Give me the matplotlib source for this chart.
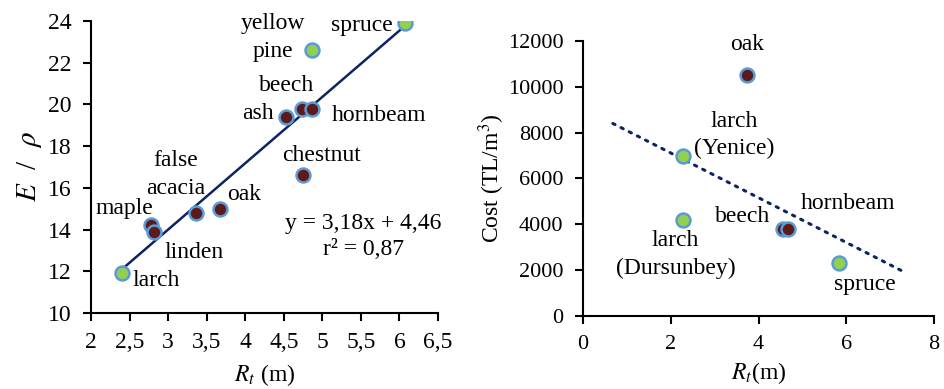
import numpy as np
import matplotlib as mpl
import matplotlib.pyplot as plt

mpl.rcParams['font.family'] = ['Liberation Serif', 'DejaVu Serif']
mpl.rcParams['mathtext.fontset'] = 'stix'

# left panel: E/rho vs R_t
species_l = ['larch', 'maple', 'linden', 'false acacia', 'oak', 'ash',
             'beech', 'hornbeam', 'chestnut', 'yellow pine', 'spruce']
rt_l = [2.40, 2.78, 2.82, 3.36, 3.67, 4.53, 4.73, 4.87, 4.75, 4.87, 6.07]
e_rho = [11.9, 14.2, 13.9, 14.8, 15.0, 19.4, 19.8, 19.8, 16.6, 22.6, 23.9]
softwood_l = [True, False, False, False, False, False, False, False, False, True, True]
slope_l, icpt_l = 3.18, 4.46

# right panel: cost vs R_t
species_r = ['oak', 'larch (Yenice)', 'larch (Dursunbey)', 'beech', 'hornbeam', 'spruce']
rt_r = [3.73, 2.28, 2.28, 4.55, 4.68, 5.83]
cost = [10500, 7000, 4200, 3800, 3800, 2300]
softwood_r = [False, True, True, False, False, True]

brown = '#5c1a1a'
green = '#92d050'
edge = '#5b9bd5'
navy = '#0d2463'
fs = 17

fig = plt.figure(figsize=(9.44, 3.89), dpi=100)

def style(ax, tsize):
    for s in ['top', 'right']:
        ax.spines[s].set_visible(False)
    for s in ['left', 'bottom']:
        ax.spines[s].set_linewidth(1.5)
    ax.tick_params(direction='out', width=1.5, length=6, pad=8, labelsize=tsize)

# ---- left
ax1 = fig.add_axes([0.0964, 0.1954, 0.3676, 0.7506])
style(ax1, 17)
xs = np.array([min(rt_l), max(rt_l)])
ax1.plot(xs, slope_l * xs + icpt_l, color=navy, lw=1.8, zorder=1)
for x, y, sw in zip(rt_l, e_rho, softwood_l):
    ax1.plot(x, y, 'o', ms=10, mfc=green if sw else brown, mec=edge, mew=1.8, zorder=2)
ax1.set_xlim(2, 6.5)
ax1.set_ylim(10, 24)
ax1.set_xticks(np.arange(2, 6.51, 0.5))
ax1.set_xticklabels([f'{v:g}'.replace('.', ',') for v in np.arange(2, 6.51, 0.5)])
ax1.set_yticks(range(10, 25, 2))
ax1.set_xlabel(r'$R_t$ (m)', fontsize=17, labelpad=6)
ax1.set_ylabel(r'$E$  /  $\rho$', fontsize=21, labelpad=3)

lab_l = {'larch': (2.84, 11.55), 'maple': (2.43, 15.02), 'linden': (3.33, 12.91),
         'false acacia': (3.10, 16.65), 'oak': (3.99, 15.66), 'ash': (4.16, 19.57),
         'beech': (4.53, 20.93), 'hornbeam': (5.73, 19.49), 'chestnut': (4.99, 17.53),
         'yellow pine': (4.36, 23.2), 'spruce': (5.51, 23.8)}
for name, (tx, ty) in lab_l.items():
    ax1.text(tx, ty, name.replace(' ', '\n'), fontsize=fs, ha='center', va='center',
             linespacing=1.45)
ax1.text(5.53, 13.65, f'y = {slope_l:.2f}x + {icpt_l:.2f}\nr² = 0,87'.replace('.', ','),
         fontsize=fs, ha='center', va='center', linespacing=1.3)

# ---- right
ax2 = fig.add_axes([0.6176, 0.1877, 0.3718, 0.7069])
style(ax2, 16)
b, a = np.polyfit(rt_r, cost, 1)
xs = np.array([0.68, 7.34])
ax2.plot(xs, b * xs + a, color=navy, lw=2.2, ls=(0, (0.8, 2.2)), dash_capstyle='round', zorder=1)
for x, y, sw in zip(rt_r, cost, softwood_r):
    ax2.plot(x, y, 'o', ms=10, mfc=green if sw else brown, mec=edge, mew=1.8, zorder=2)
ax2.set_xlim(0, 8)
ax2.set_ylim(0, 12000)
ax2.set_xticks(range(0, 9, 2))
ax2.set_yticks(range(0, 12001, 2000))
ax2.set_xlabel(r'$R_t$(m)', fontsize=17, labelpad=4)
ax2.set_ylabel(r'Cost (TL/m$^3$)', fontsize=17, labelpad=0.5)

lab_r = {'oak': (3.73, 11826), 'larch (Yenice)': (3.45, 7900), 'hornbeam': (6.04, 4917),
         'beech': (3.63, 4363), 'larch (Dursunbey)': (2.11, 2680), 'spruce': (6.42, 1353)}
for name, (tx, ty) in lab_r.items():
    ax2.text(tx, ty, name.replace(' (', '\n('), fontsize=fs, ha='center', va='center',
             linespacing=1.4)

fig.savefig('out.png', dpi=100)
